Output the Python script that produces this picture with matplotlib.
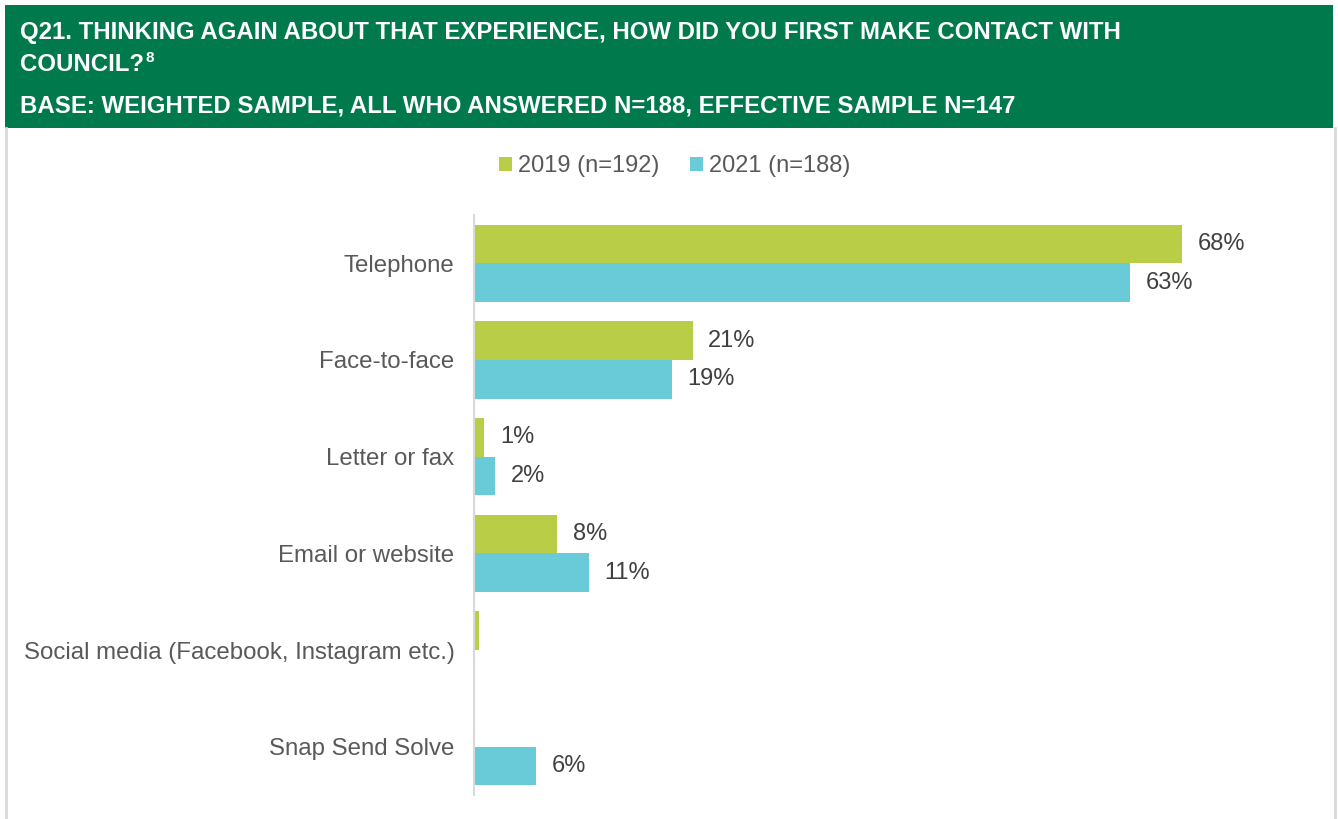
import matplotlib
matplotlib.use("Agg")
import matplotlib.pyplot as plt
from matplotlib.patches import Rectangle
from matplotlib.lines import Line2D

plt.rcParams['font.family'] = ['Liberation Sans', 'DejaVu Sans']

# survey answers, top to bottom
categories = ['Telephone', 'Face-to-face', 'Letter or fax', 'Email or website',
              'Social media (Facebook, Instagram etc.)', 'Snap Send Solve']
vals_2019 = [68, 21, 1, 8, 0.5, 0]
vals_2021 = [63, 19, 2, 11, 0, 6]
labels_2019 = ['68%', '21%', '1%', '8%', '', '']
labels_2021 = ['63%', '19%', '2%', '11%', '', '6%']
series_names = ['2019 (n=192)', '2021 (n=188)']

title_line1 = 'Q21. THINKING AGAIN ABOUT THAT EXPERIENCE, HOW DID YOU FIRST MAKE CONTACT WITH'
title_line2 = 'COUNCIL?'
title_note = '8'
base_line = 'BASE: WEIGHTED SAMPLE, ALL WHO ANSWERED N=188, EFFECTIVE SAMPLE N=147'

GREEN = '#B9CD46'
CYAN = '#69CBD8'
HEADER = '#007A4D'
TEXT = '#595959'

W, H = 1338, 819
fig = plt.figure(figsize=(W / 100, H / 100), dpi=100)
fig.patch.set_facecolor('white')


def fx(px):
    return px / W


def fy(py):
    return 1 - py / H


# header band and frame
fig.add_artist(Rectangle((fx(5), fy(128)), fx(1328), 123 / H,
                         transform=fig.transFigure, color=HEADER, lw=0))
for xp in (6, 1335):
    fig.add_artist(Line2D([fx(xp), fx(xp)], [fy(128), 0],
                          transform=fig.transFigure, color='#D9D9D9', lw=2))

hfont = dict(color='white', fontsize=17.3, fontweight='bold', va='baseline',
             ha='left')
fig.text(fx(20), fy(39), title_line1, **hfont)
t2 = fig.text(fx(20), fy(71), title_line2, **hfont)
fig.text(fx(20), fy(113), base_line, **hfont)
renderer = fig.canvas.get_renderer()
bb = t2.get_window_extent(renderer)
fig.text(bb.x1 / W + fx(2), fy(62), title_note, color='white', fontsize=11,
         fontweight='bold', va='baseline', ha='left')

# plotting area
ax = fig.add_axes([fx(474), fy(795), fx(833), 580 / H])
n = len(categories)
pos = list(range(n))
bh = 0.4
ax.barh([p - bh / 2 for p in pos], vals_2019, height=bh, color=GREEN,
        label=series_names[0])
ax.barh([p + bh / 2 for p in pos], vals_2021, height=bh, color=CYAN,
        label=series_names[1])

for p, v, lab in zip(pos, vals_2019, labels_2019):
    if lab:
        ax.text(v + 1.5, p - bh / 2, lab, va='center', ha='left',
                fontsize=17, color='#404040')
for p, v, lab in zip(pos, vals_2021, labels_2021):
    if lab:
        ax.text(v + 1.5, p + bh / 2, lab, va='center', ha='left',
                fontsize=17, color='#404040')

ax.set_ylim(n - 0.5, -0.5)
ax.set_xlim(0, 80)
ax.set_yticks(pos)
ax.set_yticklabels(categories, fontsize=17.3, color=TEXT)
ax.tick_params(axis='y', length=0, pad=14)
ax.set_xticks([])
for side in ('top', 'right', 'bottom'):
    ax.spines[side].set_visible(False)
ax.spines['left'].set_color('#D9D9D9')
ax.spines['left'].set_linewidth(1.5)

fig.legend(loc='center', bbox_to_anchor=(fx(675), fy(166)), ncol=2, frameon=False,
           fontsize=17, labelcolor=TEXT, handlelength=0.55, handleheight=0.55,
           handletextpad=0.25, columnspacing=1.3)

fig.savefig('out.png', dpi=100, facecolor='white')
